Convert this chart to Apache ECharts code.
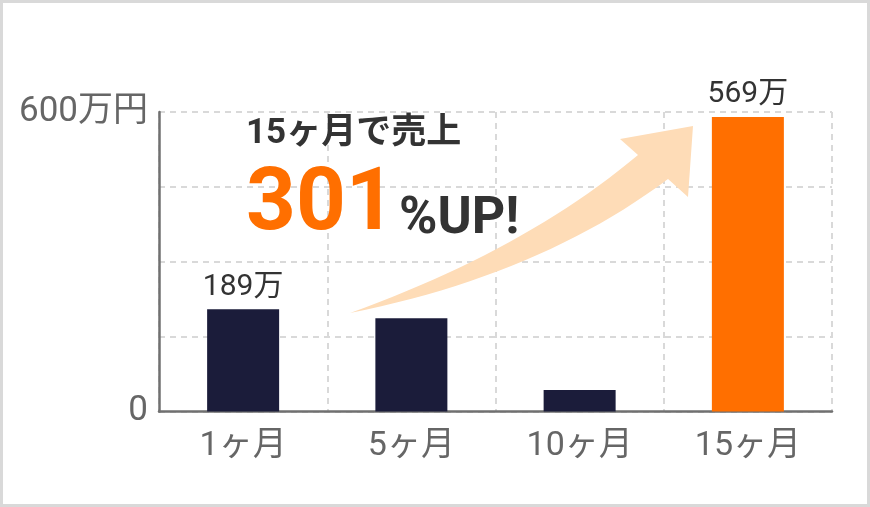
<!DOCTYPE html>
<html>
<head>
<meta charset="utf-8">
<script src="https://cdn.jsdelivr.net/npm/echarts@6/dist/echarts.min.js"></script>
<style>
  html, body { margin: 0; padding: 0; background: #fff; }
  #wrap { position: relative; width: 870px; height: 507px; }
  #main { position: absolute; left: 0; top: 0; width: 870px; height: 507px; }
  #frame { position: absolute; left: 0; top: 0; width: 870px; height: 507px;
           box-sizing: border-box; border: 3px solid #d9d9d9; pointer-events: none; }
</style>
</head>
<body>
<div id="wrap">
  <div id="main"></div>
  <div id="frame"></div>
</div>
<script>
// categories and bar heights as drawn
let months = ['1ヶ月', '5ヶ月', '10ヶ月', '15ヶ月']
let sales = [205, 187, 43, 590]
let barLabels = ['189万', '', '', '569万']
let yTicks = { 0: '0', 600: '600万円' }
let highlight = '15ヶ月'

let font = 'Roboto, "Noto Sans CJK JP", sans-serif'
let navy = '#1b1c3a'
let orange = '#ff6f00'
let gridLine = { show: true, lineStyle: { color: '#d9d9d9', width: 2, type: [6, 5] } }

// points along a quadratic curve, for the decorative arrow
function curve(p0, c, p1, n) {
    let pts = []
    for (let i = 0; i <= n; i++) {
        let t = i / n, u = 1 - t
        pts.push([u * u * p0[0] + 2 * u * t * c[0] + t * t * p1[0],
                  u * u * p0[1] + 2 * u * t * c[1] + t * t * p1[1]])
    }
    return pts
}

let arrowPts = curve([350, 313], [525, 250], [638, 155], 24)
    .concat([[620, 139], [693, 126], [688, 197]])
    .concat(curve([668, 179], [540, 275], [350, 313], 24))

let chart = echarts.init(document.getElementById('main'))

let option = {
    animation: false,
    grid: { left: 159, right: 38, top: 112, bottom: 95.5 },
    xAxis: {
        type: 'category',
        data: months,
        axisLine: { lineStyle: { color: '#707070', width: 2.5 } },
        axisTick: { show: false },
        axisLabel: { color: '#666', fontSize: 34, fontFamily: font, margin: 18 },
        splitLine: Object.assign({ interval: 0 }, gridLine)
    },
    yAxis: {
        type: 'value',
        min: 0,
        max: 600,
        interval: 150,
        axisLine: { show: true, lineStyle: { color: '#707070', width: 2.5 } },
        axisTick: { show: false },
        axisLabel: {
            color: '#666', fontSize: 35, fontFamily: font, margin: 11,
            formatter: function (v) { return yTicks[v] || '' }
        },
        splitLine: gridLine
    },
    series: [{
        type: 'bar',
        barWidth: 72,
        data: sales.map(function (v, i) {
            return {
                value: v,
                itemStyle: { color: months[i] === highlight ? orange : navy }
            }
        }),
        label: {
            show: true,
            position: 'top',
            distance: 7,
            color: '#333',
            fontSize: 30,
            fontFamily: font,
            formatter: function (p) { return barLabels[p.dataIndex] }
        },
        silent: true
    }],
    graphic: [
        {
            type: 'polygon',
            z: 1,
            shape: { points: arrowPts },
            style: { fill: '#fedcb7' }
        },
        {
            type: 'text',
            left: 246, top: 117,
            z: 10,
            style: { text: '15ヶ月で売上', fill: '#333', font: 'bold 35px ' + font }
        },
        {
            type: 'text',
            x: 246, y: 207,
            z: 10,
            style: { text: '301', fill: orange, font: 'bold 87px ' + font, verticalAlign: 'middle' }
        },
        {
            type: 'text',
            x: 399, y: 220,
            z: 10,
            style: { text: '%UP!', fill: '#333', font: 'bold 52px ' + font, verticalAlign: 'middle' }
        }
    ]
}

chart.setOption(option)
</script>
</body>
</html>
